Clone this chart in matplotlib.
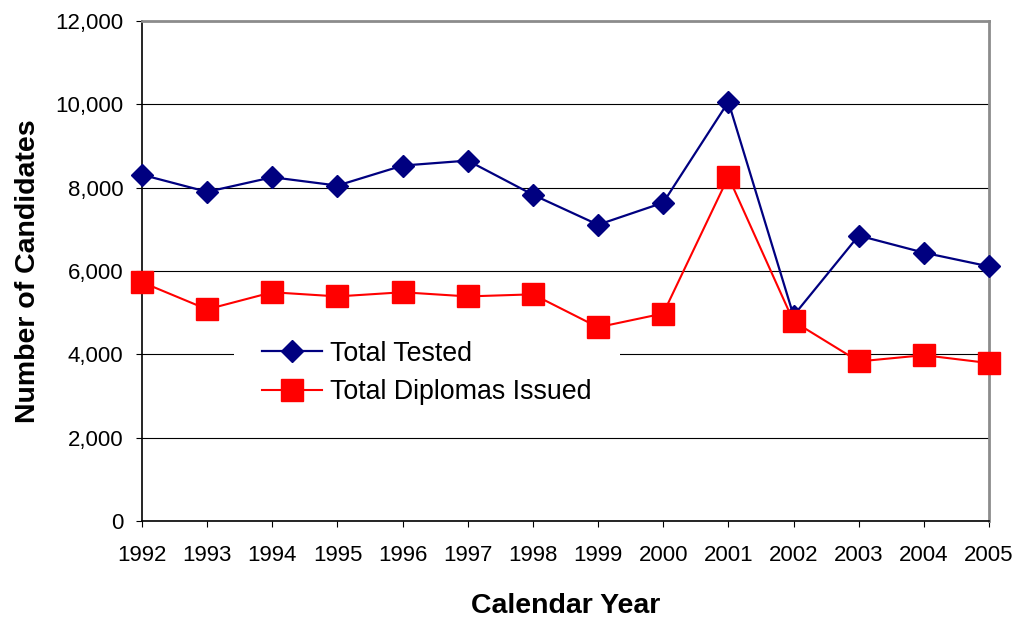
import matplotlib.pyplot as plt
from matplotlib.ticker import FuncFormatter

# ====== Data =======
years = ['1992', '1993', '1994', '1995', '1996', '1997', '1998',
         '1999', '2000', '2001', '2002', '2003', '2004', '2005']
total_tested = [8310, 7900, 8250, 8050, 8530, 8650, 7830,
                7110, 7640, 10060, 4930, 6850, 6440, 6110]
diplomas_issued = [5730, 5080, 5490, 5390, 5490, 5390, 5440,
                   4650, 4980, 8260, 4790, 3830, 3980, 3790]

plt.rcParams['font.family'] = ['Liberation Sans', 'DejaVu Sans']

fig = plt.figure(figsize=(10.19, 6.18), dpi=100)
ax = fig.add_axes([142 / 1019, 1 - 521 / 618, 847 / 1019, 500 / 618])

x = list(range(len(years)))
ax.plot(x, total_tested, color='#000080', lw=1.6, marker='D', ms=11.5,
        label='Total Tested', zorder=3, clip_on=False)
ax.plot(x, diplomas_issued, color='#FF0000', lw=1.5, marker='s', ms=16.5,
        label='Total Diplomas Issued', zorder=3, clip_on=False)

ax.set_xlim(0, len(years) - 1)
ax.set_ylim(0, 12000)
ax.set_xticks(x)
ax.set_xticklabels(years)
ax.set_yticks(range(0, 12001, 2000))
ax.yaxis.set_major_formatter(FuncFormatter(lambda v, p: f'{int(v):,}'))

ax.set_axisbelow(True)
ax.grid(axis='y', color='black', lw=0.8)
ax.tick_params(axis='both', labelsize=16, direction='out', length=4.5,
               width=0.8, colors='black')
ax.tick_params(axis='x', pad=13)
ax.tick_params(axis='y', pad=9)

for side in ['left', 'bottom']:
    ax.spines[side].set_color('black')
    ax.spines[side].set_linewidth(1.2)
for side in ['top', 'right']:
    ax.spines[side].set_color('#8c8c8c')
    ax.spines[side].set_linewidth(2)

ax.set_xlabel('Calendar Year', fontsize=20.5, fontweight='bold')
ax.set_ylabel('Number of Candidates', fontsize=20.5, fontweight='bold')
ax.xaxis.set_label_coords(0.5, -0.144)
ax.yaxis.set_label_coords(-0.119, 0.5)

leg = ax.legend(loc='center left', bbox_to_anchor=(234 / 1019, 1 - 373 / 618),
                bbox_transform=fig.transFigure, borderaxespad=0,
                fontsize=19.3, frameon=True, fancybox=False, facecolor='white',
                edgecolor='none', framealpha=1, borderpad=1.05,
                handlelength=2.25, handletextpad=0.3, labelspacing=0.46)
leg.set_zorder(2)

fig.savefig('out.png', dpi=100)
